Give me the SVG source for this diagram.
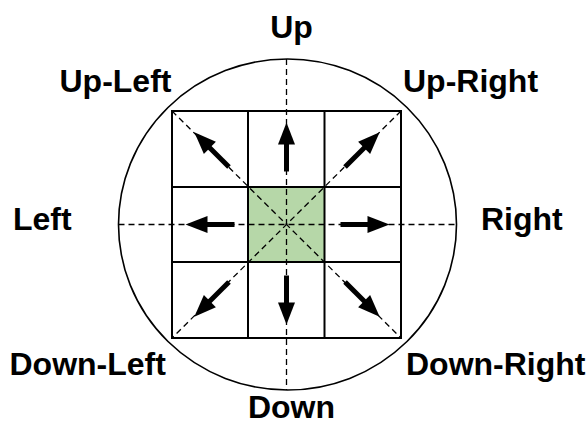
<svg xmlns="http://www.w3.org/2000/svg" width="588" height="424" viewBox="0 0 588 424">
<style>
.lbl{font-family:"Liberation Sans",Arial,sans-serif;font-weight:bold;font-size:32px;fill:#000}
.grid{fill:none;stroke:#000;stroke-width:2}
.dash{fill:none;stroke:#000;stroke-width:1.3;stroke-dasharray:6,4}
</style>
<defs>
<g id="arrow">
<line x1="-24" y1="0" x2="4" y2="0" stroke="#000" stroke-width="5"/>
<polygon points="25,0 3,-8.5 3,8.5" fill="#000"/>
</g>
</defs>
<rect width="588" height="424" fill="#fff"/>
<g id="boundary">
<ellipse cx="287.5" cy="224.5" rx="169" ry="165.5" fill="none" stroke="#000" stroke-width="1.6"/>
</g>
<g id="center-cell">
<rect x="248" y="187" width="76.5" height="75" fill="#b6d7a8"/>
</g>
<g id="grid">
<rect class="grid" x="172" y="111" width="229" height="227"/>
<line class="grid" x1="248" y1="111" x2="248" y2="338"/>
<line class="grid" x1="324.5" y1="111" x2="324.5" y2="338"/>
<line class="grid" x1="172" y1="187" x2="401" y2="187"/>
<line class="grid" x1="172" y1="262" x2="401" y2="262"/>
</g>
<g id="connectors">
<line class="dash" x1="286.5" y1="59" x2="286.5" y2="390"/>
<line class="dash" x1="118.5" y1="224.5" x2="456.5" y2="224.5"/>
<line class="dash" x1="172" y1="111" x2="401" y2="338"/>
<line class="dash" x1="401" y1="111" x2="172" y2="338"/>
<use href="#arrow" transform="translate(286.5,147.5) rotate(-90)"/>
<use href="#arrow" transform="translate(210.5,224.5) rotate(180)"/>
<use href="#arrow" transform="translate(364.5,224.5)"/>
<use href="#arrow" transform="translate(286.5,299.5) rotate(90)"/>
<use href="#arrow" transform="translate(212,150) rotate(-135)"/>
<use href="#arrow" transform="translate(362,150) rotate(-45)"/>
<use href="#arrow" transform="translate(212,299) rotate(135)"/>
<use href="#arrow" transform="translate(362,299) rotate(45)"/>
</g>
<g id="labels">
<text class="lbl" x="291.5" y="38" text-anchor="middle">Up</text>
<text class="lbl" x="59.5" y="92">Up-Left</text>
<text class="lbl" x="403" y="92">Up-Right</text>
<text class="lbl" x="13" y="230">Left</text>
<text class="lbl" x="481" y="230">Right</text>
<text class="lbl" x="9.5" y="375">Down-Left</text>
<text class="lbl" x="406" y="375">Down-Right</text>
<text class="lbl" x="291.5" y="418" text-anchor="middle">Down</text>
</g>
</svg>
